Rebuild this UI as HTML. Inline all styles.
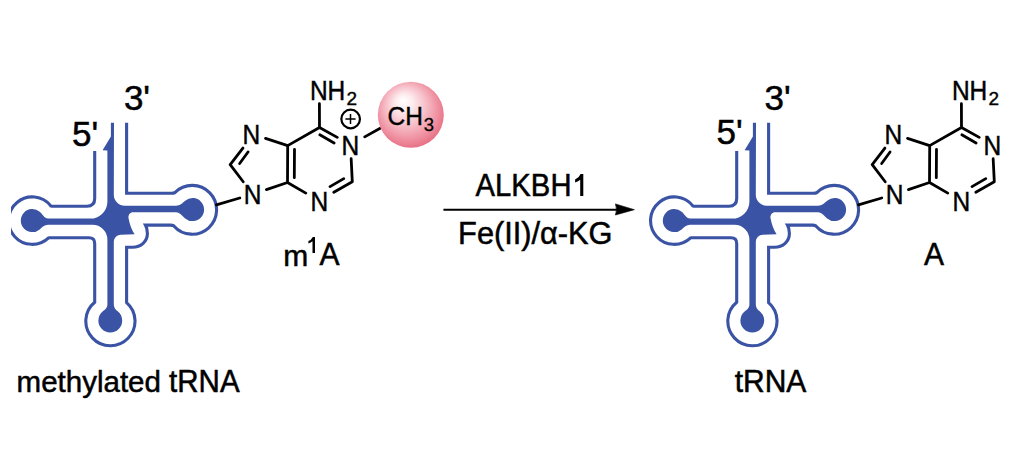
<!DOCTYPE html>
<html>
<head>
<meta charset="utf-8">
<style>
html,body{margin:0;padding:0;background:#fff;}
body{width:1032px;height:470px;overflow:hidden;position:relative;}
svg{position:absolute;left:0;top:0;}
text{font-family:"Liberation Sans",sans-serif;fill:#000;}
</style>
</head>
<body>
<svg width="1032" height="470" viewBox="0 0 1032 470">
<defs>
  <radialGradient id="ball" cx="0.47" cy="0.45" r="0.6" fx="0.38" fy="0.28">
    <stop offset="0" stop-color="#ffffff"/>
    <stop offset="0.22" stop-color="#fdebee"/>
    <stop offset="0.52" stop-color="#f6bcc6"/>
    <stop offset="0.8" stop-color="#ee8b9c"/>
    <stop offset="1" stop-color="#e4657d"/>
  </radialGradient>
  <g id="trna">
    <path fill="none" stroke="#3a53a4" stroke-width="3.1" stroke-linejoin="miter" d="
      M 94.7 151 L 94.7 198.5 Q 94.7 206.2 87 206.2 L 51.5 206.2 Q 51.2 206.2 50.9 206.0
      A 23.7 23.7 0 1 0 48.6 237.8 Q 48.8 237.7 49.4 237.7 L 89 237.7 Q 94.7 237.7 94.7 243.4 L 94.7 302.2
      A 24.6 24.6 0 1 0 126.6 302.6 L 126.6 247.3 L 132.5 247.3
      C 141 247.3 147.4 241.5 147.4 233.6 C 147.4 230.2 146.9 227.5 145.5 225.1 L 170.5 225.1 Q 172.6 225.1 173.86 225.9
      A 24.4 24.4 0 1 0 174.9 192.6 Q 173.8 193.3 171.2 193.3 L 126.6 193.3 L 126.6 122.8"/>
    <path fill="#3a53a4" d="
      M 110.9 122.8 L 114 122.8 L 113.8 194.8
      A 11 11 0 0 0 124.8 205.8 L 176 205.8 C 180 205.8 182.9 202.7 185.2 200.8
      A 11.5 11.5 0 1 1 185.2 218.4 C 182.9 216.5 180 212.2 176 212.2
      L 133 212.2 C 129.6 212.2 127.9 215.6 128.6 218.6 Q 130.4 228.3 134.6 234.3 L 120.8 234.7
      A 7 7 0 0 0 113.8 241.6 L 113.8 304.5 C 113.8 308 115.8 309.8 118 311.5
      A 11.9 11.9 0 1 1 102.6 311.5 C 104.8 309.8 107.4 308 107.4 304.5 L 107.4 240
      A 15 15 0 0 0 92.4 224.8 L 48 224.8 C 44.5 224.8 42 227.5 39.7 229.4
      A 11.5 11.5 0 1 1 39.7 211.8 C 42 213.7 44.5 218.6 48 218.6 L 90 218.6
      A 17 17 0 0 0 107.4 201.6 L 107.4 150.4 L 102.6 150.3 L 110.9 136.4 Z"/>
  </g>
  <g id="aden" stroke="#000" stroke-width="2.8" fill="none" stroke-linecap="round">
    <path d="M 287.70 145.60 L 287.50 182.50 M 294.49 149.30 L 294.31 177.70 M 287.70 145.60 L 319.50 127.50 M 319.50 127.50 L 337.26 137.37 M 319.83 134.84 L 334.07 142.96 M 351.16 158.70 L 352.30 181.70 M 352.30 181.70 L 333.83 192.26 M 330.02 186.65 L 343.78 178.65 M 305.78 193.15 L 287.50 182.50 M 287.70 145.60 L 265.54 138.40 M 242.91 148.03 L 230.20 164.70 M 248.04 151.95 L 239.66 163.55 M 230.20 164.70 L 243.21 181.77 M 266.43 189.59 L 287.50 182.50 M 319.41 103.70 L 319.50 127.50 M 239.75 197.97 L 216.40 204.90"/>
  </g>
  <g id="adenlab" stroke="#000" stroke-width="0.4" font-size="24.5">
    <text transform="translate(242.4,143.9) scale(1,1.11)">N</text>
    <text transform="translate(243.7,204) scale(1,1.11)">N</text>
    <text transform="translate(341.4,155) scale(1,1.11)">N</text>
    <text transform="translate(310.5,210.6) scale(1,1.11)">N</text>
    <text transform="translate(309.9,99.9) scale(1,1.11)">NH</text>
    <text x="346.6" y="105.4" font-size="19">2</text>
  </g>
</defs>

<use href="#trna"/>
<use href="#trna" transform="translate(642,0)"/>
<use href="#aden"/>
<use href="#adenlab"/>
<use href="#aden" transform="translate(642,0)"/>
<use href="#adenlab" transform="translate(642,0)"/>

<!-- white mask left edge -->
<rect x="0" y="0" width="11" height="470" fill="#fff"/>

<!-- charge -->
<circle cx="350.65" cy="119" r="9.3" fill="none" stroke="#000" stroke-width="2.2"/>
<path d="M 345.4 119 L 355.6 119 M 350.5 113.9 L 350.5 124.1" stroke="#000" stroke-width="1.5"/>

<!-- methyl bond and ball -->
<path d="M 364.7 136.9 L 382 127.3" stroke="#000" stroke-width="2.8" stroke-linecap="round"/>
<circle cx="410.8" cy="114.8" r="33" fill="url(#ball)"/>
<g stroke="#000" stroke-width="0.3">
<text transform="translate(387.6,125.1) scale(1,1.08)" font-size="24.5" stroke-width="0.4">CH</text>
<text x="423.8" y="131.3" font-size="18.5">3</text>
</g>

<g stroke="#000" stroke-width="0.5">
<!-- primes -->
<text x="72" y="146" font-size="35">5'</text>
<text x="123.9" y="110" font-size="35">3'</text>
<text x="716.6" y="144.3" font-size="35">5'</text>
<text x="764.6" y="110.2" font-size="35">3'</text>

<!-- labels -->
<text x="16.6" y="391.6" font-size="29.5">methylated</text>
<text transform="translate(169.1,391.8) scale(1,1.05)" font-size="29.5">tRNA</text>
<text transform="translate(734.7,392) scale(1,1.05)" font-size="30">tRNA</text>
<text x="283.3" y="265.9" font-size="30">m</text>
<path stroke="none" d="M 315 237 L 315 253.1 L 312.5 253.1 L 312.5 241.2 Q 310.9 242.7 308.4 243.4 L 308.4 241.1 Q 311.3 240 312.8 237 Z"/>
<text transform="translate(319.4,265.3) scale(1,1.03)" font-size="30">A</text>
<text transform="translate(924,265.3) scale(1,1.03)" font-size="30">A</text>

<!-- arrow -->
<text transform="translate(475.6,195.9) scale(0.975,1.04)" font-size="30">ALKBH</text>
<path stroke="none" d="M 583.3 174 L 583.3 195.9 L 580.2 195.9 L 580.2 179.8 Q 578.4 181.6 575.1 182.5 L 575.1 179.5 Q 579 178 580.6 174 Z"/>
<text transform="translate(458.1,243.7) scale(1.025,1.04)" font-size="30">Fe(II)/α-KG</text>
</g>
<path d="M 443.4 209.8 L 618 209.8" stroke="#000" stroke-width="2.0"/>
<path d="M 634.4 209.7 L 615.4 203.9 Q 617.6 209.7 615.4 215 Z" fill="#000" stroke="#000" stroke-width="0.6" stroke-linejoin="round"/>
</svg>
</body>
</html>
